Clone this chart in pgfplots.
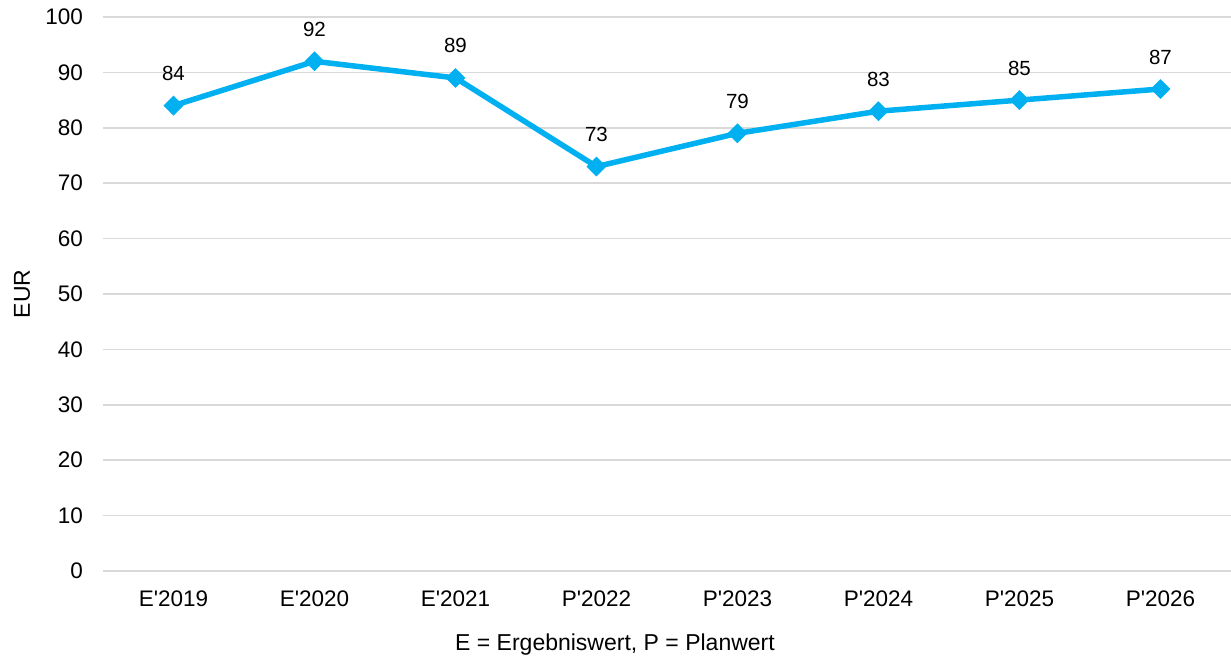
\documentclass[border=0pt]{standalone}
\usepackage{pgfplots}
\pgfplotsset{compat=1.18}
\usepackage{fontspec}
\setmainfont{Liberation Sans}[Ligatures=TeXOff]
\definecolor{linec}{RGB}{0,176,240}
\definecolor{gridc}{RGB}{217,217,217}
\begin{document}
\begin{tikzpicture}
\path[use as bounding box] (-103pt,-88pt) rectangle (1128pt,571pt);
\begin{axis}[
  at={(0pt,0pt)}, anchor=south west,
  scale only axis,
  width=1128pt, height=554pt,
  xmin=-0.5, xmax=7.5,
  ymin=0, ymax=100,
  xtick={0,...,7},
  xticklabels={E'2019,E'2020,E'2021,P'2022,P'2023,P'2024,P'2025,P'2026},
  ytick={0,10,...,100},
  ymajorgrids,
  grid style={gridc, line width=1.5pt},
  axis line style={draw=none},
  major tick length=0pt,
  /pgf/number format/assume math mode=true,
  tick label style={font=\fontsize{22.5}{26}\selectfont, inner sep=0pt},
  yticklabel style={anchor=east, xshift=-20pt},
  xticklabel style={anchor=north, yshift=-20pt},
  xlabel={E = Ergebniswert, P = Planwert},
  ylabel={EUR},
  label style={font=\fontsize{23}{27}\selectfont, inner sep=0pt},
  xlabel style={at={(axis description cs:0.4539,-0.1336)}, anchor=center},
  ylabel style={at={(axis description cs:-0.0718,0.5)}, anchor=center},
  nodes near coords,
  every node near coord/.append style={font=\fontsize{20.5}{24}\selectfont, anchor=center, yshift=32pt, text=black},
  clip=false,
]
\addplot[color=linec, line width=5.5pt, mark=square*, mark size=6.5pt,
  mark options={rotate=45, fill=linec, line width=1pt, solid}]
  coordinates {(0,84) (1,92) (2,89) (3,73) (4,79) (5,83) (6,85) (7,87)};
\end{axis}
\end{tikzpicture}
\end{document}
